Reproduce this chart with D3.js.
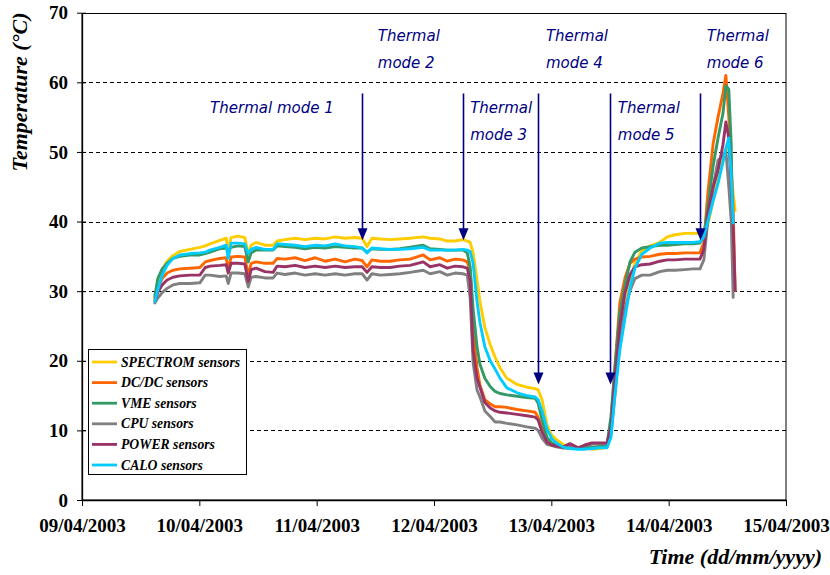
<!DOCTYPE html>
<html>
<head>
<meta charset="utf-8">
<script src="https://cdn.jsdelivr.net/npm/d3@7"></script>
<style>
  html, body { margin: 0; padding: 0; background: #fff; }
  svg { display: block; }
</style>
</head>
<body>
<svg id="chart" width="830" height="575"></svg>
<script>
// ---- DATA ----
// hours elapsed since 09/04/2003 00:00
const hours = [14.9,15.5,16.4,17.4,18.6,20.0,22.1,24.1,25.2,26.2,28.2,29.5,29.9,30.5,31.9,33.3,34.0,34.6,35.6,37.4,
  39.1,39.9,41.5,43.6,45.6,47.7,49.7,51.8,53.8,55.8,57.3,58.3,59.3,61.0,63.0,65.0,67.1,69.8,71.2,73.2,
  74.7,76.3,77.9,78.8,79.4,80.0,80.8,81.4,82.4,83.5,84.5,85.5,86.9,89.0,91.0,92.7,93.3,94.1,95.1,96.1,
  97.2,98.4,99.8,101.5,102.9,104.3,106.0,107.4,108.2,109.0,110.0,111.1,112.1,113.1,114.5,116.2,118.2,119.7,121.3,123.3,
  125.0,126.4,127.2,128.0,129.1,130.1,131.1,131.7,132.3,132.8,133.2,133.6];

const seriesNames = ["SPECTROM sensors","DC/DC sensors","VME sensors","CPU sensors","POWER sensors","CALO sensors"];
const seriesColors = ["#FFCC00","#FF6600","#339966","#808080","#993366","#00CCFF"];

const spectrom = [28.8,31.0,33.0,34.3,35.1,35.7,36.0,36.3,36.5,36.8,37.3,37.6,35.8,37.7,37.9,37.7,35.3,36.6,37.0,36.6,
  36.6,37.2,37.4,37.6,37.4,37.6,37.5,37.8,37.6,37.7,37.6,36.4,37.6,37.5,37.4,37.5,37.6,37.8,37.6,37.5,
  37.2,37.2,37.4,37.2,37.0,35.5,31.6,28.5,24.8,22.3,20.5,19.0,17.5,16.6,16.2,16.0,15.8,14.4,10.8,9.3,
  8.6,8.0,7.6,7.4,7.5,7.3,7.4,7.6,9.5,16.0,22.0,27.0,31.5,34.0,35.8,36.5,37.0,37.8,38.1,38.3,
  38.3,38.3,38.4,39.5,43.0,46.5,49.0,50.2,51.0,47.0,44.0,41.6];
const dcdc = [29.0,30.5,31.8,32.6,33.0,33.2,33.3,33.4,34.2,34.4,34.7,34.8,33.0,34.9,35.0,34.9,32.3,34.0,34.2,34.0,
  34.0,34.7,34.6,34.8,34.4,34.8,34.3,34.6,34.2,34.6,34.4,33.5,34.5,34.3,34.3,34.5,34.6,35.2,34.5,34.8,
  34.3,34.6,34.5,34.2,33.0,24.5,19.0,16.5,14.4,13.8,13.4,13.4,13.3,13.0,12.8,12.6,11.9,10.3,8.6,8.0,
  7.7,7.5,7.6,7.4,7.8,7.5,7.7,7.8,11.0,19.0,28.3,32.0,34.0,34.6,34.9,35.0,35.3,35.4,35.4,35.5,
  35.5,35.5,37.0,44.0,51.2,55.0,58.4,61.0,55.0,48.0,41.6,30.1];
const vme = [29.3,31.8,33.2,34.0,34.7,35.0,35.2,35.2,35.4,35.6,36.1,36.2,35.8,36.3,36.5,36.4,34.2,35.5,35.9,35.9,
  35.9,36.5,36.4,36.3,36.1,36.3,36.2,36.4,36.3,36.2,36.2,35.6,36.1,36.0,36.0,36.1,36.3,36.6,36.1,36.0,
  35.9,35.9,35.9,35.5,33.5,27.5,22.0,19.5,17.5,16.3,15.6,15.3,15.1,14.9,14.7,14.6,13.9,11.5,9.0,8.2,
  7.8,7.5,7.4,7.4,7.6,7.5,7.7,8.0,12.0,19.0,26.8,31.0,34.2,35.6,36.2,36.4,36.6,36.6,36.7,36.8,
  36.8,36.9,38.0,42.0,48.0,52.0,55.5,59.5,59.0,51.0,32.0,null];
const cpu = [28.3,29.0,29.8,30.4,30.9,31.1,31.1,31.2,32.3,32.3,32.1,32.2,31.1,32.6,32.6,32.5,30.6,32.0,32.1,31.9,
  31.9,32.6,32.4,32.6,32.3,32.5,32.3,32.5,32.3,32.5,32.5,31.6,32.5,32.3,32.4,32.5,32.7,33.0,32.5,32.8,
  32.3,32.6,32.5,32.3,29.0,19.7,15.8,14.8,12.8,12.0,11.2,11.2,11.0,10.8,10.5,10.3,10.0,8.9,8.0,7.8,
  7.6,7.5,7.8,7.5,7.9,8.0,8.1,8.1,9.5,15.0,23.0,27.5,30.1,31.8,32.3,32.3,32.8,33.0,33.0,33.1,
  33.2,33.2,34.5,40.0,45.0,48.8,49.5,50.2,45.0,40.0,29.1,null];
const power = [28.6,29.8,30.9,31.6,32.0,32.2,32.3,32.3,33.4,33.6,33.7,33.8,32.6,34.0,34.0,33.9,31.4,33.1,33.3,32.8,
  32.7,33.6,33.5,33.7,33.4,33.6,33.4,33.6,33.4,33.5,33.5,32.7,33.5,33.4,33.4,33.6,33.7,34.2,33.5,33.8,
  33.3,33.6,33.5,33.3,31.5,21.5,17.5,16.2,14.0,13.2,12.8,12.6,12.5,12.3,12.1,11.9,11.5,9.8,8.3,7.9,
  7.7,7.6,8.1,7.5,7.9,8.2,8.2,8.2,10.5,17.5,25.0,29.8,32.4,33.5,33.8,33.9,34.3,34.5,34.5,34.6,
  34.6,34.6,36.0,41.2,45.0,47.4,51.0,54.3,52.0,45.0,39.2,30.1];
const calo = [28.5,30.2,32.3,33.7,34.7,35.2,35.4,35.5,35.6,35.9,36.3,36.6,34.7,36.9,36.9,36.8,35.4,36.0,36.3,36.0,
  36.0,36.8,36.7,36.6,36.4,36.6,36.5,36.8,36.5,36.4,36.2,35.5,36.2,36.1,36.0,36.0,36.1,36.3,35.9,35.9,
  35.9,35.9,36.0,35.9,35.7,34.0,28.5,25.5,22.0,20.0,18.8,17.5,16.1,15.4,15.0,14.8,14.4,12.8,10.2,8.8,
  8.1,7.6,7.4,7.3,7.3,7.4,7.5,7.5,9.0,15.0,21.5,26.3,30.5,33.3,35.3,36.2,36.9,37.0,37.0,37.0,
  37.0,37.1,37.8,40.0,43.0,45.5,48.5,50.5,52.0,46.4,39.8,null];
const seriesValues = [spectrom, dcdc, vme, cpu, power, calo];

const yTicks = [0,10,20,30,40,50,60,70];
const xTickDays = [9,10,11,12,13,14,15];

// annotations: arrow time (hours), tip temperature
const arrowHours = [57.3, 77.9, 93.3, 108.0, 126.4];
const arrowTipTemps = [37.3, 37.3, 16.6, 16.6, 37.3];
const arrowTopTemp = 58.4;
// labels: lines, time (hours) of left edge, temperature of first baseline
const modeLabels = [
  {lines:["Thermal mode 1"], h:26.2, t:55.6},
  {lines:["Thermal","mode 2"], h:60.5, t:66.0},
  {lines:["Thermal","mode 3"], h:79.4, t:55.6},
  {lines:["Thermal","mode 4"], h:94.9, t:66.0},
  {lines:["Thermal","mode 5"], h:109.6, t:55.6},
  {lines:["Thermal","mode 6"], h:127.8, t:66.0}
];

// ---- CHART ----
(function () {
const svg = d3.select("#chart");
const pLeft = 82, pRight = 786, pTop = 12.7, pBottom = 500;
const base = new Date(2003, 3, 9, 0, 0, 0);
const toDate = h => new Date(base.getTime() + h * 3600000);

const x = d3.scaleTime().domain([new Date(2003,3,9), new Date(2003,3,15)]).range([pLeft, pRight]);
const y = d3.scaleLinear().domain([0, 70]).range([pBottom, pTop]);

// gridlines
svg.append("g").selectAll("line").data(yTicks.filter(v => v > 0 && v < 70)).join("line")
  .attr("x1", pLeft).attr("x2", pRight)
  .attr("y1", d => Math.round(y(d)) + 0.5).attr("y2", d => Math.round(y(d)) + 0.5)
  .attr("stroke", "#000").attr("stroke-width", 1).attr("stroke-dasharray", "4,3");

// plot border
svg.append("rect").attr("x", pLeft).attr("y", Math.round(pTop) + 0.5)
  .attr("width", pRight - pLeft).attr("height", pBottom - Math.round(pTop) - 0.5)
  .attr("fill", "none").attr("stroke", "#000").attr("stroke-width", 1);

// axes
const fmt = d3.timeFormat("%d/%m/%Y");
const xAxis = svg.append("g").attr("transform", `translate(0,${pBottom})`)
  .call(d3.axisBottom(x).tickValues(xTickDays.map(d => new Date(2003,3,d))).tickFormat(fmt).tickSize(6).tickSizeOuter(0));
xAxis.select(".domain").attr("stroke", "#000").attr("stroke-width", 1.3);
xAxis.selectAll("text").attr("font-family", "'Liberation Serif', 'Times New Roman', serif")
  .attr("font-weight", "bold").attr("font-size", 19).attr("fill", "#000").attr("dy", "1.2em");

const yAxis = svg.append("g").attr("transform", `translate(${pLeft},0)`)
  .call(d3.axisLeft(y).tickValues(yTicks).tickSize(5).tickSizeOuter(0));
yAxis.select(".domain").attr("stroke", "#000").attr("stroke-width", 1.3);
yAxis.selectAll(".tick line").attr("x2", 4).attr("x1", -5);
yAxis.selectAll("text").attr("font-family", "'Liberation Serif', 'Times New Roman', serif")
  .attr("font-weight", "bold").attr("font-size", 19).attr("fill", "#000").attr("x", -14);

// axis titles
svg.append("text").attr("transform", "translate(27,92) rotate(-90)")
  .attr("text-anchor", "middle")
  .attr("font-family", "'Liberation Serif', 'Times New Roman', serif")
  .attr("font-weight", "bold").attr("font-style", "italic").attr("font-size", 22)
  .text("Temperature (°C)");
svg.append("text").attr("x", 822).attr("y", 564).attr("text-anchor", "end")
  .attr("font-family", "'Liberation Serif', 'Times New Roman', serif")
  .attr("font-weight", "bold").attr("font-style", "italic").attr("font-size", 22)
  .text("Time (dd/mm/yyyy)");

// lines
const line = d3.line()
  .defined(d => d.v !== null)
  .x(d => x(toDate(d.h))).y(d => y(d.v));
seriesValues.forEach((vals, i) => {
  const pts = hours.map((h, j) => ({h, v: vals[j] === undefined ? null : vals[j]}));
  svg.append("path").datum(pts)
    .attr("d", line).attr("fill", "none")
    .attr("stroke", seriesColors[i]).attr("stroke-width", 2.9)
    .attr("stroke-linejoin", "round").attr("stroke-linecap", "round");
});

// arrows
const navy = "#000080";
arrowHours.forEach((h, i) => {
  const ax = Math.round(x(toDate(h))) + 0.5;
  const yTop = y(arrowTopTemp), yTip = y(arrowTipTemps[i]);
  svg.append("line").attr("x1", ax).attr("x2", ax).attr("y1", yTop).attr("y2", yTip - 8)
    .attr("stroke", navy).attr("stroke-width", 1.6);
  svg.append("path")
    .attr("d", `M${ax - 5},${yTip - 12} L${ax + 5},${yTip - 12} L${ax},${yTip} Z`)
    .attr("fill", navy);
});

// mode labels
modeLabels.forEach(lab => {
  const t = svg.append("text")
    .attr("x", x(toDate(lab.h))).attr("y", y(lab.t))
    .attr("font-family", "'Comic Sans MS', 'DejaVu Sans', sans-serif")
    .attr("font-style", "italic").attr("font-size", 15).attr("fill", navy);
  lab.lines.forEach((s, k) => {
    t.append("tspan").attr("x", x(toDate(lab.h))).attr("dy", k === 0 ? 0 : 27).text(s);
  });
});

// legend
const lg = svg.append("g");
lg.append("rect").attr("x", 88.5).attr("y", 349.5).attr("width", 158).attr("height", 125)
  .attr("fill", "#fff").attr("stroke", "#000").attr("stroke-width", 1);
seriesNames.forEach((name, i) => {
  const cy = 362 + i * 20.6;
  lg.append("line").attr("x1", 92).attr("x2", 117).attr("y1", cy).attr("y2", cy)
    .attr("stroke", seriesColors[i]).attr("stroke-width", 2.8);
  lg.append("text").attr("x", 121).attr("y", cy + 4.5)
    .attr("font-family", "'Liberation Serif', 'Times New Roman', serif")
    .attr("font-weight", "bold").attr("font-style", "italic").attr("font-size", 13.7)
    .text(name);
});
})();
</script>
</body>
</html>
